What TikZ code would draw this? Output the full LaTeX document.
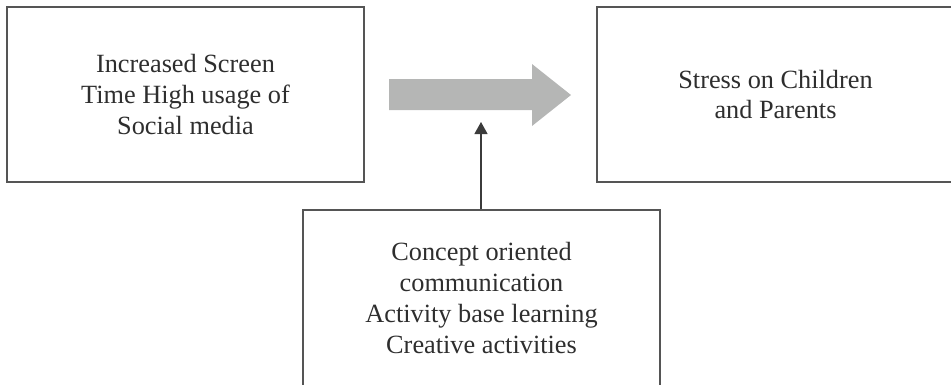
\documentclass[tikz,border=0pt]{standalone}
\usepackage{fontspec}
\setmainfont{Liberation Serif}
\usetikzlibrary{arrows.meta}
\definecolor{framegray}{HTML}{555555}
\definecolor{textgray}{HTML}{2E2E2E}
\definecolor{arrowgray}{HTML}{B5B6B5}
\begin{document}
\begin{tikzpicture}[x=1pt, y=-1pt,
  box/.style={draw=framegray, line width=1.2pt, minimum width=357pt, inner sep=0pt,
    text=textgray, align=center, font=\fontsize{26.3}{30.7}\selectfont}]
  \clip (0,0) rectangle (951,384);
  \node[box, minimum height=175pt] (screen) at (185.5,94.5) {Increased Screen\\Time High usage of\\Social media};
  \node[box, minimum height=175pt] (stress) at (775.5,94.5) {Stress on Children\\and Parents};
  \node[box, minimum height=176pt] (remedy) at (481.5,298) {Concept oriented\\communication\\Activity base learning\\Creative activities};
  % broad grey arrow between the two top boxes
  \fill [arrowgray] (389,79) -- (532,79) -- (532,64) -- (571,95) -- (532,126) -- (532,110) -- (389,110) -- cycle;
  \coordinate (tip) at (481,122);
  \draw [framegray!70!black, line width=1.2pt, -{Triangle[length=12pt,width=13pt]}] (remedy.north -| tip) -- (tip);
\end{tikzpicture}
\end{document}
